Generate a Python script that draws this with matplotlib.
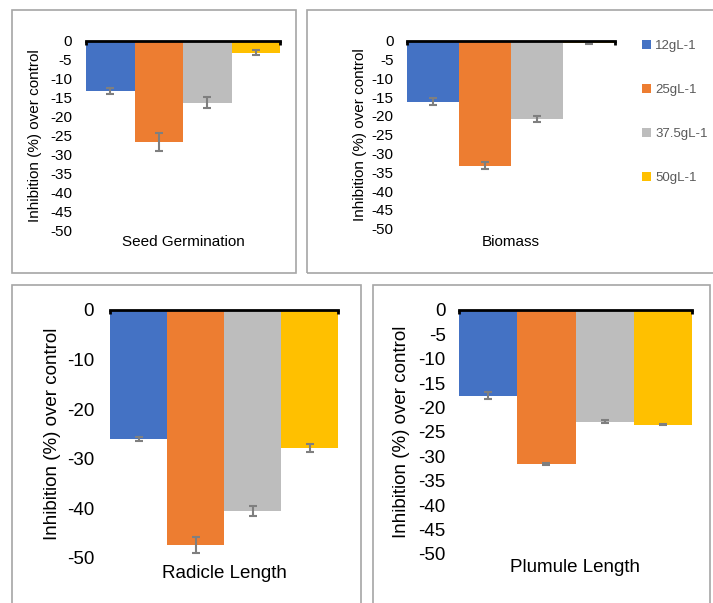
import matplotlib.pyplot as plt
from matplotlib.patches import Rectangle

plt.rcParams['font.family'] = ['Liberation Sans', 'DejaVu Sans']
plt.rcParams['axes.unicode_minus'] = False

concs = ['12gL-1', '25gL-1', '37.5gL-1', '50gL-1']
colors = ['#4472C4', '#ED7D31', '#BDBDBD', '#FFC000']

germination = [-13.3, -26.7, -16.4, -3.2]
germination_err = [0.8, 2.4, 1.5, 0.7]
biomass = [-16.2, -33.2, -20.8, -0.7]
biomass_err = [0.9, 1.0, 0.7, 0.3]
radicle = [-26.0, -47.4, -40.5, -27.8]
radicle_err = [0.4, 1.6, 1.0, 0.8]
plumule = [-17.6, -31.6, -22.9, -23.5]
plumule_err = [0.7, 0.15, 0.3, 0.15]

W, H = 713, 603
fig = plt.figure(figsize=(W / 100, H / 100), dpi=100)

# panel frames (pixel coords)
for x0, y0, x1, y1 in [(12, 10, 296, 273), (307, 10, 716, 273),
                       (12, 285, 361, 620), (373, 285, 710, 620)]:
    fig.patches.append(Rectangle((x0 / W, 1 - y1 / H), (x1 - x0) / W, (y1 - y0) / H,
                                 transform=fig.transFigure, fill=False,
                                 edgecolor='#A6A6A6', lw=1.2, clip_on=False))


def panel(box, vals, errs, step, title, ylab_x, title_y, fs, pad):
    x0, y0, x1, y1 = box
    ax = fig.add_axes([x0 / W, 1 - y1 / H, (x1 - x0) / W, (y1 - y0) / H])
    pos = range(len(vals))
    bars = ax.bar(pos, vals, width=1.0, color=colors, zorder=1)
    ax.errorbar(pos, vals, yerr=errs, fmt='none', ecolor='#7F7F7F',
                elinewidth=1.5, capsize=3, capthick=1.5, zorder=3)
    ax.set_xlim(-0.5, 3.5)
    ax.set_ylim(-50, 0)
    ax.set_yticks(range(-50, 1, step))
    for s in ['left', 'right', 'top']:
        ax.spines[s].set_visible(False)
    ax.spines['bottom'].set_position(('data', 0))
    ax.spines['bottom'].set_linewidth(2)
    ax.spines['bottom'].set_zorder(4)
    ax.set_xticks([-0.5, 3.5])
    ax.set_xticklabels([])
    ax.tick_params(axis='x', direction='out', length=3, width=2)
    ax.tick_params(axis='y', length=0, labelsize=fs, pad=pad)
    ax.patch.set_visible(False)
    fig.text(ylab_x / W, 1 - (y0 + y1) / 2 / H, 'Inhibition (%) over control',
             rotation=90, ha='center', va='center', fontsize=fs)
    fig.text((x0 + x1) / 2 / W, 1 - title_y / H, title, ha='center', va='center',
             fontsize=fs)
    return bars


bars = panel((86, 40.7, 280, 230), germination, germination_err, 5,
             'Seed Germination', 35, 242, 11, 10)
panel((407, 40.7, 615, 228.7), biomass, biomass_err, 5,
      'Biomass', 360, 242, 11, 9.5)
panel((110, 310, 338, 557.7), radicle, radicle_err, 10,
      'Radicle Length', 53, 573, 13.5, 11.5)
panel((459, 310, 692, 554), plumule, plumule_err, 5,
      'Plumule Length', 402, 568, 13.5, 9.5)

leg = fig.legend(bars, concs, loc='upper left', bbox_to_anchor=(642 / W, 1 - 40 / H),
                 frameon=False, fontsize=9.5, labelspacing=2.4,
                 handlelength=0.7, handleheight=0.7, handletextpad=0.3,
                 borderpad=0, borderaxespad=0)
for t in leg.get_texts():
    t.set_color('#595959')

fig.savefig('out.png', dpi=100)
